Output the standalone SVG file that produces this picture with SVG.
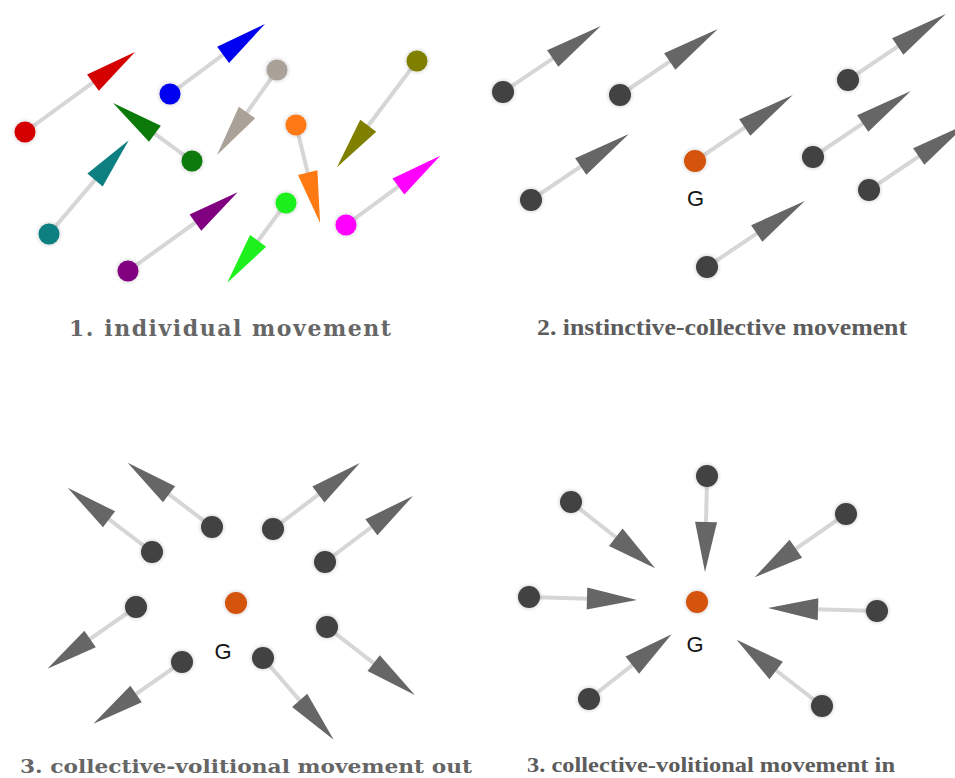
<svg xmlns="http://www.w3.org/2000/svg" width="955" height="778" viewBox="0 0 955 778">
<defs>
<filter id="glow" x="-60%" y="-60%" width="220%" height="220%">
<feGaussianBlur in="SourceAlpha" stdDeviation="2"/>
<feComponentTransfer><feFuncA type="linear" slope="0.25"/></feComponentTransfer>
<feMerge><feMergeNode/><feMergeNode in="SourceGraphic"/></feMerge>
</filter>
</defs>
<style>
.shaft{stroke:#d6d6d6;stroke-width:4;stroke-linecap:butt;fill:none}
.dh{fill:#666666}
.dn{fill:#424242;filter:url(#glow)}
.cn{filter:url(#glow)}
.gn{fill:#d4520c;filter:url(#glow)}
.g{font-family:"Liberation Sans",Arial,sans-serif;font-size:22px;fill:#151515;text-anchor:middle}
.lblw{font-family:"DejaVu Serif",serif;font-weight:bold;fill:#666666}
.lbln{font-family:"Liberation Serif",serif;font-weight:bold;fill:#5c5c5c}
</style>
<rect width="955" height="778" fill="#ffffff"/>

<g id="connectors">
<!-- panel 1 -->
<g transform="translate(25,132) rotate(-36)"><line class="shaft" x1="0" y1="0" x2="86" y2="0"/><polygon points="84,-10 84,10 136,0" fill="#d40000"/></g>
<g transform="translate(170,94) rotate(-36.4)"><line class="shaft" x1="0" y1="0" x2="68" y2="0"/><polygon points="66,-10 66,10 118,0" fill="#0000f0"/></g>
<g transform="translate(277,70) rotate(125.2)"><line class="shaft" x1="0" y1="0" x2="54" y2="0"/><polygon points="52,-10 52,10 104,0" fill="#aaa199"/></g>
<g transform="translate(192,161) rotate(-143.7)"><line class="shaft" x1="0" y1="0" x2="48" y2="0"/><polygon points="46,-10 46,10 98,0" fill="#0b7a0b"/></g>
<g transform="translate(49,234) rotate(-49.6)"><line class="shaft" x1="0" y1="0" x2="73" y2="0"/><polygon points="71,-10 71,10 123,0" fill="#0e7f80"/></g>
<g transform="translate(417,61) rotate(127)"><line class="shaft" x1="0" y1="0" x2="83" y2="0"/><polygon points="81,-10 81,10 133,0" fill="#808000"/></g>
<g transform="translate(296,125) rotate(76.2)"><line class="shaft" x1="0" y1="0" x2="51" y2="0"/><polygon points="49,-10 49,10 101,0" fill="#ff7a12"/></g>
<g transform="translate(346,225) rotate(-36.3)"><line class="shaft" x1="0" y1="0" x2="67" y2="0"/><polygon points="65,-10 65,10 117,0" fill="#ff00ff"/></g>
<g transform="translate(128,271) rotate(-35.7)"><line class="shaft" x1="0" y1="0" x2="85" y2="0"/><polygon points="83,-10 83,10 135,0" fill="#800080"/></g>
<g transform="translate(286,203) rotate(126.4)"><line class="shaft" x1="0" y1="0" x2="49" y2="0"/><polygon points="47,-10 47,10 99,0" fill="#1ef01e"/></g>
<!-- panel 2 -->
<g transform="translate(503,92) rotate(-34)"><line class="shaft" x1="0" y1="0" x2="62" y2="0"/><polygon class="dh" points="60,-10 60,10 118,0"/></g>
<g transform="translate(620,95) rotate(-34)"><line class="shaft" x1="0" y1="0" x2="62" y2="0"/><polygon class="dh" points="60,-10 60,10 118,0"/></g>
<g transform="translate(848,80) rotate(-34)"><line class="shaft" x1="0" y1="0" x2="62" y2="0"/><polygon class="dh" points="60,-10 60,10 118,0"/></g>
<g transform="translate(695,161) rotate(-34)"><line class="shaft" x1="0" y1="0" x2="62" y2="0"/><polygon class="dh" points="60,-10 60,10 118,0"/></g>
<g transform="translate(531,200) rotate(-34)"><line class="shaft" x1="0" y1="0" x2="62" y2="0"/><polygon class="dh" points="60,-10 60,10 118,0"/></g>
<g transform="translate(813,157) rotate(-34)"><line class="shaft" x1="0" y1="0" x2="62" y2="0"/><polygon class="dh" points="60,-10 60,10 118,0"/></g>
<g transform="translate(869,190) rotate(-34)"><line class="shaft" x1="0" y1="0" x2="62" y2="0"/><polygon class="dh" points="60,-10 60,10 118,0"/></g>
<g transform="translate(707,267) rotate(-34)"><line class="shaft" x1="0" y1="0" x2="62" y2="0"/><polygon class="dh" points="60,-10 60,10 118,0"/></g>
<!-- panel 3 -->
<g transform="translate(152,552) rotate(-142.7)"><line class="shaft" x1="0" y1="0" x2="56" y2="0"/><polygon class="dh" points="54,-10 54,10 106,0"/></g>
<g transform="translate(212,527) rotate(-142.7)"><line class="shaft" x1="0" y1="0" x2="56" y2="0"/><polygon class="dh" points="54,-10 54,10 106,0"/></g>
<g transform="translate(273,529) rotate(-37.2)"><line class="shaft" x1="0" y1="0" x2="59" y2="0"/><polygon class="dh" points="57,-10 57,10 109,0"/></g>
<g transform="translate(325,562) rotate(-36.9)"><line class="shaft" x1="0" y1="0" x2="60" y2="0"/><polygon class="dh" points="58,-10 58,10 110,0"/></g>
<g transform="translate(136,607) rotate(145.1)"><line class="shaft" x1="0" y1="0" x2="58" y2="0"/><polygon class="dh" points="56,-10 56,10 108,0"/></g>
<g transform="translate(182,662) rotate(145.1)"><line class="shaft" x1="0" y1="0" x2="58" y2="0"/><polygon class="dh" points="56,-10 56,10 108,0"/></g>
<g transform="translate(263,658) rotate(49.1)"><line class="shaft" x1="0" y1="0" x2="58" y2="0"/><polygon class="dh" points="56,-10 56,10 108,0"/></g>
<g transform="translate(327,627) rotate(37.7)"><line class="shaft" x1="0" y1="0" x2="61" y2="0"/><polygon class="dh" points="59,-10 59,10 111,0"/></g>
<!-- panel 4 -->
<g transform="translate(707,476) rotate(91.2)"><line class="shaft" x1="0" y1="0" x2="48" y2="0"/><polygon class="dh" points="46,-11 46,11 96,0"/></g>
<g transform="translate(571,502) rotate(38.2)"><line class="shaft" x1="0" y1="0" x2="59" y2="0"/><polygon class="dh" points="57,-11 57,11 107,0"/></g>
<g transform="translate(529,597) rotate(1.6)"><line class="shaft" x1="0" y1="0" x2="60" y2="0"/><polygon class="dh" points="58,-11 58,11 108,0"/></g>
<g transform="translate(589,699) rotate(-38.1)"><line class="shaft" x1="0" y1="0" x2="57" y2="0"/><polygon class="dh" points="55,-11 55,11 105,0"/></g>
<g transform="translate(846,514) rotate(145.3)"><line class="shaft" x1="0" y1="0" x2="63" y2="0"/><polygon class="dh" points="61,-11 61,11 111,0"/></g>
<g transform="translate(877,611) rotate(181.6)"><line class="shaft" x1="0" y1="0" x2="61" y2="0"/><polygon class="dh" points="59,-11 59,11 109,0"/></g>
<g transform="translate(822,706) rotate(-142.2)"><line class="shaft" x1="0" y1="0" x2="60" y2="0"/><polygon class="dh" points="58,-11 58,11 108,0"/></g>
</g>

<g id="panel1">
<circle id="p1-red" class="cn" cx="25" cy="132" r="10.5" fill="#d40000"/>
<circle id="p1-blue" class="cn" cx="170" cy="94" r="10.5" fill="#0000f0"/>
<circle id="p1-tan" class="cn" cx="277" cy="70" r="10.5" fill="#aaa199"/>
<circle id="p1-green" class="cn" cx="192" cy="161" r="10.5" fill="#0b7a0b"/>
<circle id="p1-teal" class="cn" cx="49" cy="234" r="10.5" fill="#0e7f80"/>
<circle id="p1-olive" class="cn" cx="417" cy="61" r="10.5" fill="#808000"/>
<circle id="p1-orange" class="cn" cx="296" cy="125" r="10.5" fill="#ff7a12"/>
<circle id="p1-magenta" class="cn" cx="346" cy="225" r="10.5" fill="#ff00ff"/>
<circle id="p1-purple" class="cn" cx="128" cy="271" r="10.5" fill="#800080"/>
<circle id="p1-lime" class="cn" cx="286" cy="203" r="10.5" fill="#1ef01e"/>
<text class="lblw" x="69" y="336" font-size="22" textLength="322" lengthAdjust="spacing">1. individual movement</text>
</g>

<g id="panel2">
<circle id="p2-n1" class="dn" cx="503" cy="92" r="11"/>
<circle id="p2-n2" class="dn" cx="620" cy="95" r="11"/>
<circle id="p2-n3" class="dn" cx="848" cy="80" r="11"/>
<circle id="p2-n5" class="dn" cx="531" cy="200" r="11"/>
<circle id="p2-n6" class="dn" cx="813" cy="157" r="11"/>
<circle id="p2-n7" class="dn" cx="869" cy="190" r="11"/>
<circle id="p2-n8" class="dn" cx="707" cy="267" r="11"/>
<g id="p2-G"><circle class="gn" cx="695" cy="161" r="11"/><text class="g" x="695.5" y="206">G</text></g>
<text class="lbln" x="537" y="335" font-size="24" textLength="370" lengthAdjust="spacingAndGlyphs">2. instinctive-collective movement</text>
</g>

<g id="panel3">
<circle id="p3-a" class="dn" cx="152" cy="552" r="11"/>
<circle id="p3-b" class="dn" cx="212" cy="527" r="11"/>
<circle id="p3-c" class="dn" cx="273" cy="529" r="11"/>
<circle id="p3-d" class="dn" cx="325" cy="562" r="11"/>
<circle id="p3-e" class="dn" cx="136" cy="607" r="11"/>
<circle id="p3-f" class="dn" cx="182" cy="662" r="11"/>
<circle id="p3-h" class="dn" cx="263" cy="658" r="11"/>
<circle id="p3-i" class="dn" cx="327" cy="627" r="11"/>
<g id="p3-G"><circle class="gn" cx="236" cy="603" r="11"/><text class="g" x="223" y="659">G</text></g>
<text class="lblw" x="20" y="773" font-size="19" textLength="452" lengthAdjust="spacingAndGlyphs">3. collective-volitional movement out</text>
</g>

<g id="panel4">
<circle id="p4-top" class="dn" cx="707" cy="476" r="11"/>
<circle id="p4-ul" class="dn" cx="571" cy="502" r="11"/>
<circle id="p4-l" class="dn" cx="529" cy="597" r="11"/>
<circle id="p4-ll" class="dn" cx="589" cy="699" r="11"/>
<circle id="p4-ur" class="dn" cx="846" cy="514" r="11"/>
<circle id="p4-r" class="dn" cx="877" cy="611" r="11"/>
<circle id="p4-lr" class="dn" cx="822" cy="706" r="11"/>
<g id="p4-G"><circle class="gn" cx="697" cy="602" r="11"/><text class="g" x="695" y="652">G</text></g>
<text class="lbln" x="527" y="772" font-size="22" textLength="368" lengthAdjust="spacingAndGlyphs">3. collective-volitional movement in</text>
</g>
</svg>
